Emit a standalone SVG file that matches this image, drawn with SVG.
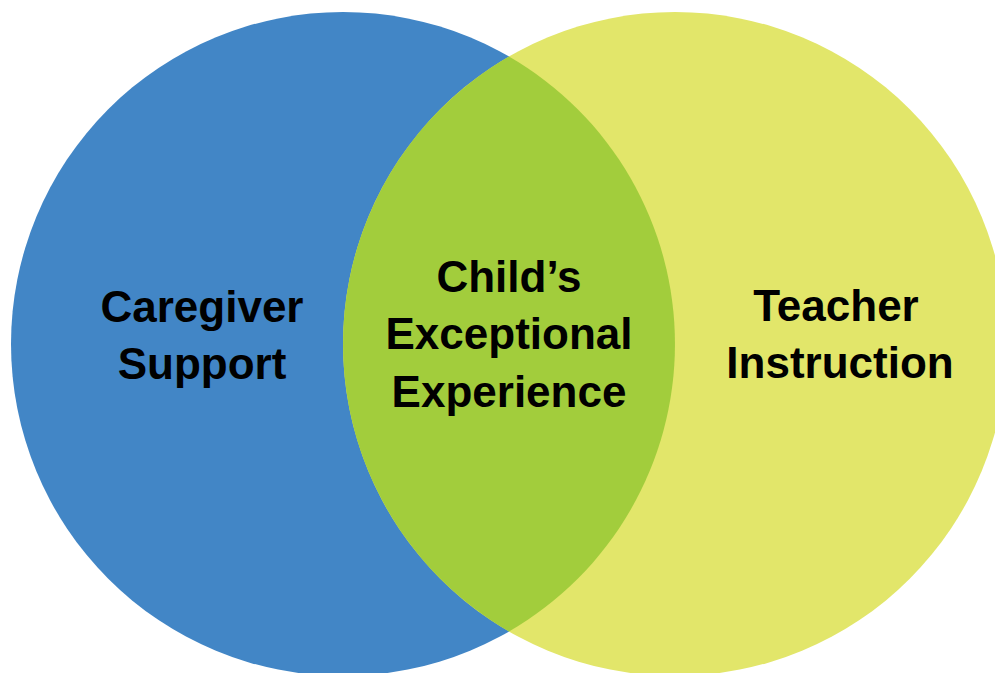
<svg xmlns="http://www.w3.org/2000/svg" width="995" height="673" viewBox="0 0 995 673">
<style>
.lbl{font-family:"Liberation Sans",Arial,sans-serif;font-weight:bold;font-size:44px;fill:#000;text-anchor:middle}
</style>
<rect width="995" height="673" fill="#fff"/>
<g id="caregiver">
<circle cx="343" cy="344" r="332" fill="#4286C6"/>
</g>
<g id="teacher">
<circle cx="675" cy="344" r="332" fill="#E2E66A"/>
</g>
<g id="child">
<path d="M509,56.5 A332,332 0 0 1 509,631.5 A332,332 0 0 1 509,56.5 Z" fill="#A2CD3C"/>
</g>
<g id="labels">
<text class="lbl" x="202" y="322">Caregiver</text>
<text class="lbl" x="202" y="379">Support</text>
<text class="lbl" x="509" y="292">Child’s</text>
<text class="lbl" x="509" y="349">Exceptional</text>
<text class="lbl" x="509" y="407">Experience</text>
<text class="lbl" x="836" y="321">Teacher</text>
<text class="lbl" x="840" y="378">Instruction</text>
</g>
<g id="connectors"/>
</svg>
